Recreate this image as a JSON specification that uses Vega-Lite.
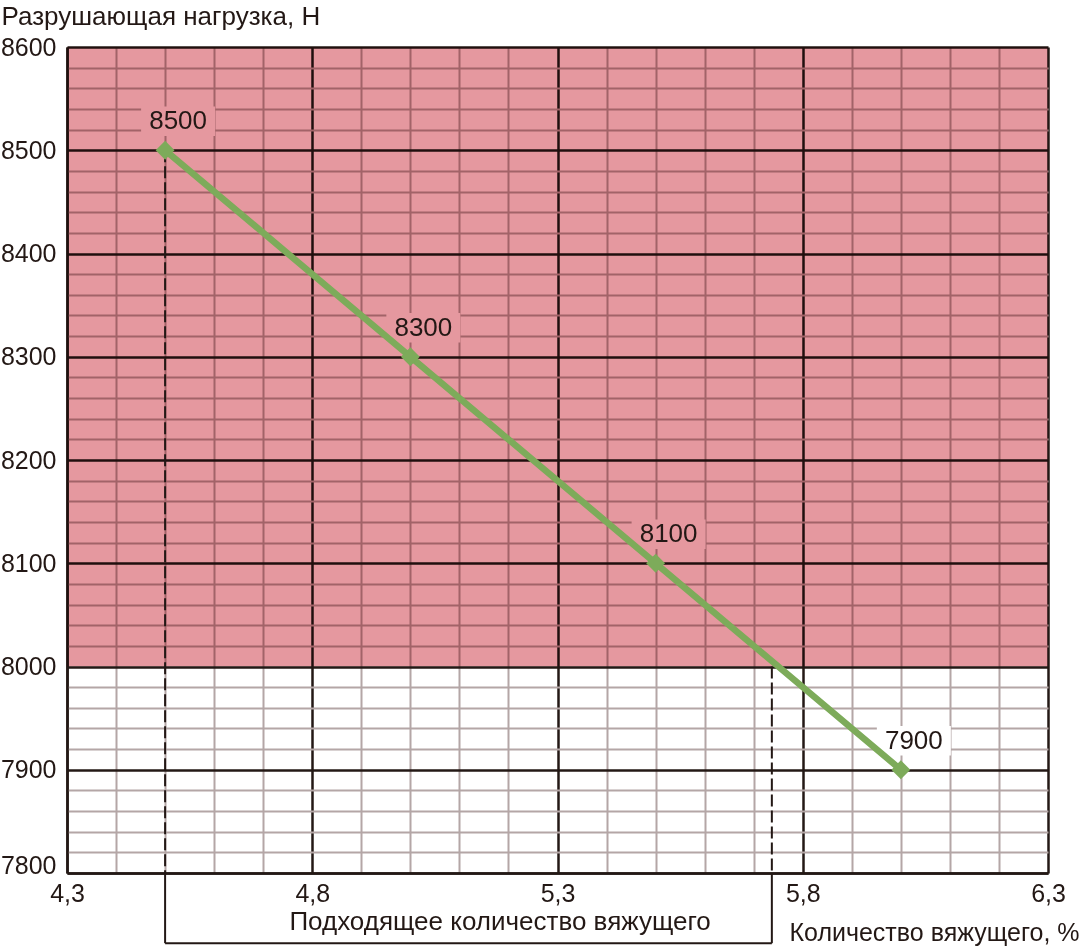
{
  "$schema": "https://vega.github.io/schema/vega-lite/v6.json",
  "width": 981,
  "height": 826,
  "autosize": "none",
  "padding": {"left": 67, "top": 47, "right": 37, "bottom": 79},
  "background": "white",
  "config": {
    "view": {"stroke": null},
    "font": "Liberation Sans",
    "axis": {"labelOverlap": false},
    "text": {"font": "Liberation Sans", "color": "#231815"}
  },
  "datasets": {
    "points": [
      {"binder": 4.5, "load": 8500},
      {"binder": 5.0, "load": 8300},
      {"binder": 5.5, "load": 8100},
      {"binder": 6.0, "load": 7900}
    ],
    "range": [
      {"lo": 4.5, "hi": 5.737, "lo_load": 8500, "hi_load": 8000, "label": "Подходящее количество вяжущего"}
    ],
    "zone": [
      {"from": 8000, "to": 8600}
    ]
  },
  "layer": [
    {
      "data": {"name": "zone"},
      "mark": {"type": "rect", "fill": "#e5989f", "blend": "multiply"},
      "encoding": {
        "x": {
          "datum": 4.3, "type": "quantitative",
          "scale": {"domain": [4.3, 6.3], "nice": false, "zero": false},
          "axis": {
            "title": "Количество вяжущего, %",
            "titleFont": "Liberation Sans", "titleFontSize": 25, "titleFontWeight": "normal", "titleColor": "#231815",
            "titleAngle": 0, "titleAlign": "right", "titleBaseline": "alphabetic", "titleX": 1012, "titleY": 67,
            "values": [4.3,4.4,4.5,4.6,4.7,4.8,4.9,5.0,5.1,5.2,5.3,5.4,5.5,5.6,5.7,5.8,5.9,6.0,6.1,6.2,6.3],
            "tickCount": 200,
            "labelExpr": "indexof([4.3,4.8,5.3,5.8,6.3], datum.value) >= 0 ? replace(format(datum.value, '.1f'), '.', ',') : ''",
            "labelFont": "Liberation Sans", "labelColor": "#231815",
            "labelFontSize": {"condition": {"test": "indexof([4.3,4.8,5.3,5.8,6.3], datum.value) >= 0", "value": 25}, "value": 0},
            "labelBaseline": "alphabetic", "labelPadding": 28, "labelFlush": false, "labelOverlap": false, "labelBound": false,
            "ticks": false, "tickSize": 0,
            "domain": true, "domainColor": "#231815", "domainWidth": 2.5,
            "grid": true, "zindex": 0,
            "gridColor": {"condition": {"test": "indexof([4.3,4.8,5.3,5.8,6.3], datum.value) >= 0", "value": "#231815"}, "value": "#b4a6a6"},
            "gridWidth": {"condition": {"test": "indexof([4.3,4.8,5.3,5.8,6.3], datum.value) >= 0", "value": 2.5}, "value": 2},
            "gridOpacity": 1
          }
        },
        "x2": {"datum": 6.3},
        "y": {
          "field": "from", "type": "quantitative",
          "scale": {"domain": [7800, 8600], "nice": false, "zero": false},
          "axis": {
            "title": "Разрушающая нагрузка, Н",
            "titleFont": "Liberation Sans", "titleFontSize": 26, "titleFontWeight": "normal", "titleColor": "#231815",
            "titleAngle": 0, "titleAlign": "left", "titleBaseline": "alphabetic", "titleX": -66, "titleY": -23,
            "values": [7800,7820,7840,7860,7880,7900,7920,7940,7960,7980,8000,8020,8040,8060,8080,8100,8120,8140,8160,8180,8200,8220,8240,8260,8280,8300,8320,8340,8360,8380,8400,8420,8440,8460,8480,8500,8520,8540,8560,8580,8600],
            "tickCount": 200,
            "labelExpr": "datum.value % 100 == 0 ? format(datum.value, 'd') : ''",
            "labelFont": "Liberation Sans", "labelColor": "#231815",
            "labelFontSize": {"condition": {"test": "datum.value % 100 == 0", "value": 25}, "value": 0},
            "labelBaseline": {"condition": {"test": "datum.value == 7800", "value": "alphabetic"}, "value": "middle"},
            "labelPadding": 11, "labelFlush": false, "labelOverlap": false, "labelBound": false,
            "ticks": false, "tickSize": 0,
            "domain": true, "domainColor": "#231815", "domainWidth": 2.5,
            "grid": true, "zindex": 0,
            "gridColor": {"condition": {"test": "datum.value % 100 == 0", "value": "#231815"}, "value": "#b4a6a6"},
            "gridWidth": {"condition": {"test": "datum.value % 100 == 0", "value": 2.5}, "value": 2},
            "gridOpacity": 1
          }
        },
        "y2": {"field": "to"}
      }
    },
    {
      "data": {"name": "range"},
      "mark": {"type": "rule", "color": "#231815", "strokeWidth": 2, "strokeDash": [12, 4]},
      "encoding": {
        "x": {"field": "lo", "type": "quantitative"},
        "y": {"field": "lo_load", "type": "quantitative"},
        "y2": {"datum": 7800}
      }
    },
    {
      "data": {"name": "range"},
      "mark": {"type": "rule", "color": "#231815", "strokeWidth": 2, "strokeDash": [12, 4]},
      "encoding": {
        "x": {"field": "hi", "type": "quantitative"},
        "y": {"field": "hi_load", "type": "quantitative"},
        "y2": {"datum": 7800}
      }
    },
    {
      "data": {"name": "range"},
      "mark": {"type": "rule", "color": "#231815", "strokeWidth": 2},
      "encoding": {
        "x": {"field": "lo", "type": "quantitative"},
        "y": {"datum": 7800, "type": "quantitative"},
        "y2": {"datum": 7732}
      }
    },
    {
      "data": {"name": "range"},
      "mark": {"type": "rule", "color": "#231815", "strokeWidth": 2},
      "encoding": {
        "x": {"field": "hi", "type": "quantitative"},
        "y": {"datum": 7800, "type": "quantitative"},
        "y2": {"datum": 7732}
      }
    },
    {
      "data": {"name": "range"},
      "mark": {"type": "rule", "color": "#231815", "strokeWidth": 2},
      "encoding": {
        "x": {"field": "lo", "type": "quantitative"},
        "x2": {"field": "hi"},
        "y": {"datum": 7732, "type": "quantitative"}
      }
    },
    {
      "data": {"name": "range"},
      "mark": {"type": "text", "font": "Liberation Sans", "fontSize": 26, "color": "#231815", "align": "center", "baseline": "alphabetic"},
      "encoding": {
        "x": {"datum": 5.183, "type": "quantitative"},
        "y": {"datum": 7745, "type": "quantitative"},
        "text": {"field": "label"}
      }
    },
    {
      "data": {"name": "points"},
      "mark": {"type": "point", "shape": "M-1,-0.4H1V0.4H-1Z", "filled": true, "strokeWidth": 0, "size": 5476, "opacity": 1, "xOffset": 13, "yOffset": -29},
      "encoding": {
        "x": {"field": "binder", "type": "quantitative"},
        "y": {"field": "load", "type": "quantitative"},
        "color": {"condition": {"test": "datum.load > 8000", "value": "#e5989f"}, "value": "white"}
      }
    },
    {
      "data": {"name": "points"},
      "mark": {"type": "line", "color": "#7dab5a", "strokeWidth": 6.5},
      "encoding": {
        "x": {"field": "binder", "type": "quantitative"},
        "y": {"field": "load", "type": "quantitative"}
      }
    },
    {
      "data": {"name": "points"},
      "mark": {"type": "point", "shape": "diamond", "filled": true, "color": "#7dab5a", "size": 360, "opacity": 1},
      "encoding": {
        "x": {"field": "binder", "type": "quantitative"},
        "y": {"field": "load", "type": "quantitative"}
      }
    },
    {
      "data": {"name": "points"},
      "mark": {"type": "text", "font": "Liberation Sans", "fontSize": 26, "color": "#231815", "align": "center", "baseline": "middle", "dx": 13, "dy": -29},
      "encoding": {
        "x": {"field": "binder", "type": "quantitative"},
        "y": {"field": "load", "type": "quantitative"},
        "text": {"field": "load", "type": "quantitative", "format": "d"}
      }
    }
  ]
}
